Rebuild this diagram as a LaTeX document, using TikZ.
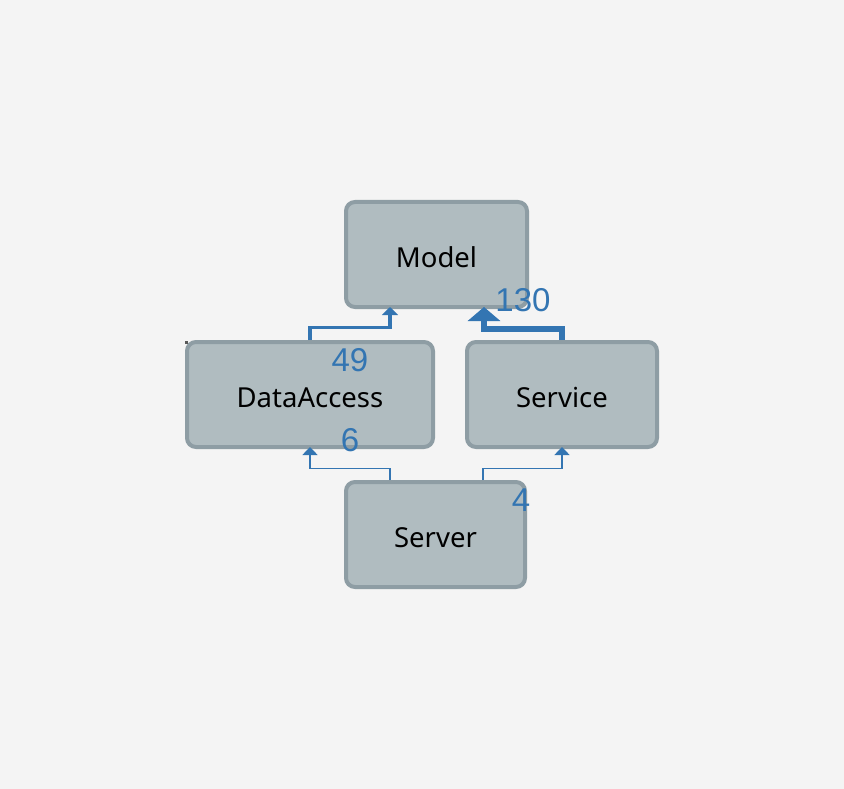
\documentclass[tikz,border=0pt]{standalone}
\usepackage{fontspec}
\setmainfont{Noto Sans}
\newfontfamily\labelfont{Liberation Sans}
\usetikzlibrary{arrows.meta,calc}
\definecolor{bg}{HTML}{F4F4F4}
\definecolor{boxfill}{HTML}{B0BCC0}
\definecolor{boxline}{HTML}{8E9DA4}
\definecolor{edgeblue}{HTML}{3375B2}
\tikzset{
  box/.style={draw=boxline, fill=boxfill, line width=4pt, rounded corners=9pt,
    minimum height=105pt, inner sep=0pt, text height=26.5pt, text depth=0pt,
    font=\fontsize{27.5}{32}\selectfont, text=black},
  edge/.style={draw=edgeblue, line join=miter},
  tiny/.style={edge, line width=1.5pt, -{Triangle[width=15pt,length=8pt]}},
  mid/.style={edge, line width=3.5pt, -{Triangle[width=16pt,length=8pt]}},
  fat/.style={edge, line width=6pt, -{Triangle[width=32pt,length=14pt]}},
  lbl/.style={text=edgeblue, font=\labelfont\fontsize{33}{36}\selectfont, inner sep=0pt}
}
\begin{document}
\begin{tikzpicture}[x=1pt,y=-1pt]
\fill[bg] (0,0) rectangle (844,789);
\useasboundingbox (0,0) rectangle (844,789);
\node[box, minimum width=181pt] (Model) at (436.5,254.5) {Model};
\node[box, minimum width=246pt] (DataAccess) at (310,394.5) {DataAccess};
\node[box, minimum width=190pt] (Service) at (562,394.5) {Service};
\node[box, minimum width=179pt] (Server) at (435.5,534.5) {Server};
\fill[gray!70!black] (185,341) rectangle (188,344);
\draw[mid] (DataAccess.north) -- ++(0,-12.5) -| ([xshift=-46.5pt,yshift=2pt]Model.south);
\draw[fat] (Service.north) -- ++(0,-11) -| ([xshift=47.5pt,yshift=2pt]Model.south);
\draw[tiny] ([xshift=-45.5pt]Server.north) -- ++(0,-11.5) -| ([yshift=2pt]DataAccess.south);
\draw[tiny] ([xshift=47.5pt]Server.north) -- ++(0,-11.5) -| ([yshift=2pt]Service.south);
\node[lbl] (l49) at (350,360) {49};
\node[lbl] (l130) at (523,300) {130};
\node[lbl] (l6) at (350,440) {6};
\node[lbl] (l4) at (521,500) {4};
\end{tikzpicture}
\end{document}
